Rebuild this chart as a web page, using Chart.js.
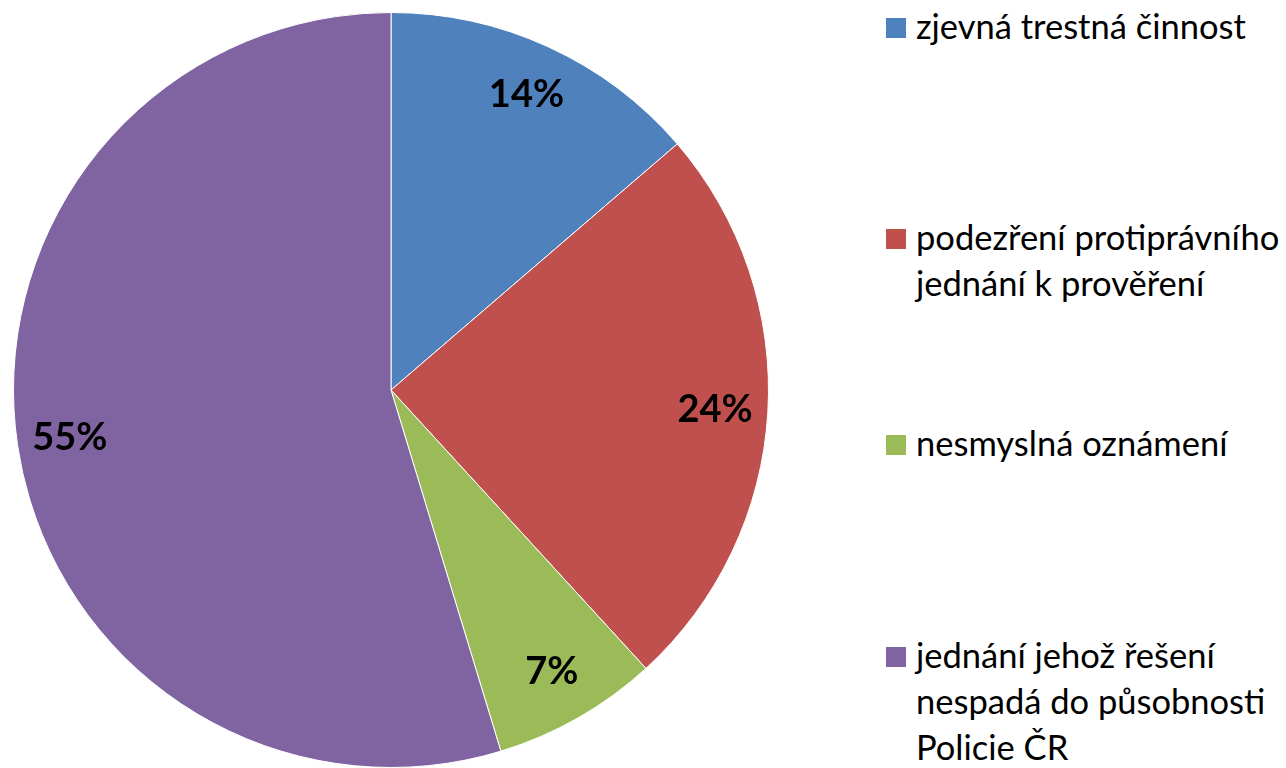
<!DOCTYPE html>
<html>
<head>
<meta charset="utf-8">
<script src="https://cdn.jsdelivr.net/npm/chart.js@4"></script>
<style>
  body { margin: 0; background: #fff; }
  #wrap { position: relative; width: 1286px; height: 768px; }
  #pie { position: absolute; left: 0; top: 0; width: 782px; height: 768px; }
  .item { position: absolute; left: 886px; font-family: Lato, sans-serif; font-size: 34.5px; line-height: 46px; color: #000; }
  .box { position: absolute; left: 0; top: 15px; width: 20px; height: 20px; }
  .txt { margin-left: 30px; white-space: nowrap; }
</style>
</head>
<body>
<div id="wrap">
  <div id="pie"><canvas id="c"></canvas></div>
  <div id="legend"></div>
</div>
<script>
let labels = ['zjevná trestná činnost', 'podezření protiprávního jednání k prověření', 'nesmyslná oznámení', 'jednání jehož řešení nespadá do působnosti Policie ČR'];
let legendLines = [['zjevná trestná činnost'], ['podezření protiprávního', 'jednání k prověření'], ['nesmyslná oznámení'], ['jednání jehož řešení', 'nespadá do působnosti', 'Policie ČR']];
let values = [13.7, 24.5, 7.1, 54.7]; // %
let shown = ['14%', '24%', '7%', '55%'];
let colors = ['#4F81BD', '#C0504D', '#9BBB59', '#8064A2'];
let legendTop = [3, 214, 420, 632];

// legenda v html
let lg = document.getElementById('legend');
for (let i = 0; i < legendLines.length; i++) {
    let d = document.createElement('div');
    d.className = 'item';
    d.style.top = legendTop[i] + 'px';
    d.innerHTML = '<div class="box" style="background:' + colors[i] + '"></div><div class="txt">' + legendLines[i].join('<br>') + '</div>';
    lg.appendChild(d);
}

// popisky procent uvnitr vysece
let pctLabels = {
    id: 'pctLabels',
    afterDatasetsDraw(chart) {
        let ctx = chart.ctx;
        let meta = chart.getDatasetMeta(0);
        ctx.save();
        ctx.font = 'bold 38px Lato, sans-serif';
        ctx.fillStyle = '#000';
        ctx.textAlign = 'center';
        ctx.textBaseline = 'middle';
        meta.data.forEach(function (arc, i) {
            let p = arc.getProps(['x', 'y', 'startAngle', 'endAngle', 'outerRadius'], true);
            let a = (p.startAngle + p.endAngle) / 2;
            let r = p.outerRadius * 0.86;
            ctx.fillText(shown[i], p.x + Math.cos(a) * r, p.y + Math.sin(a) * r);
        });
        ctx.restore();
    }
};

new Chart(document.getElementById('c'), {
    type: 'pie',
    data: {
        labels: labels,
        datasets: [{
            data: values,
            backgroundColor: colors,
            borderColor: '#ffffff',
            borderWidth: 1
        }]
    },
    options: {
        responsive: true,
        maintainAspectRatio: false,
        animation: false,
        layout: { padding: { top: 12, bottom: 0, left: 0, right: 0 } },
        plugins: {
            legend: { display: false },
            tooltip: { enabled: false }
        }
    },
    plugins: [pctLabels]
});
</script>
</body>
</html>
